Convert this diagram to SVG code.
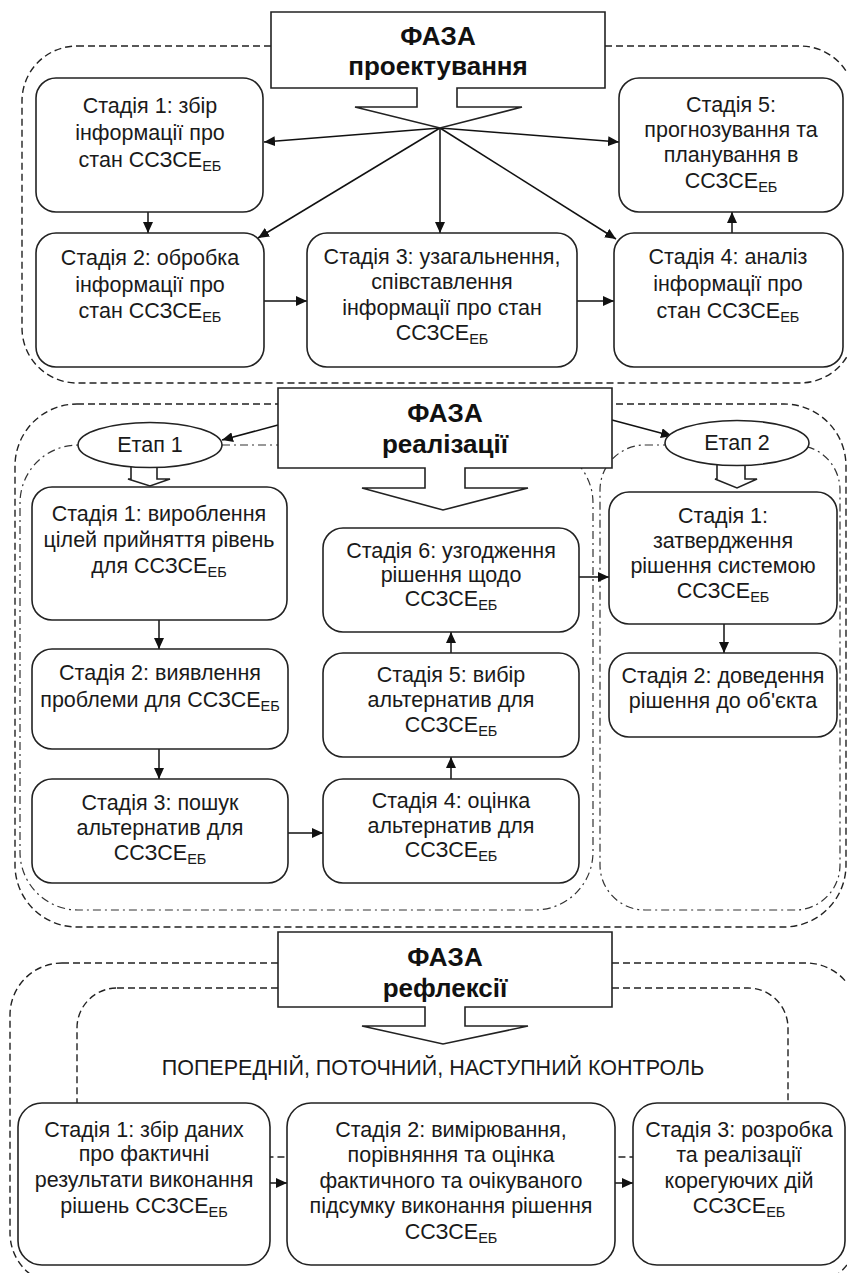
<svg xmlns="http://www.w3.org/2000/svg" width="847" height="1273" viewBox="0 0 847 1273">
<defs>
<marker id="ah" markerUnits="userSpaceOnUse" markerWidth="12" markerHeight="10" refX="11" refY="5" orient="auto">
<path d="M0,0 L11,5 L0,10 z" fill="#111"/>
</marker>
<style>
.box{fill:#fff;stroke:#222;stroke-width:1.6}
.ph{fill:#fff;stroke:#222;stroke-width:1.6}
.t{font-family:"Liberation Sans",Arial,sans-serif;font-size:21.5px;text-anchor:middle;fill:#1a1a1a}
.s{font-size:14.5px}
.pt{font-family:"Liberation Sans",Arial,sans-serif;font-size:26px;font-weight:bold;text-anchor:middle;fill:#111}
.dash{fill:none;stroke:#222;stroke-width:1.4;stroke-dasharray:7 4}
.dd{fill:none;stroke:#333;stroke-width:1.2;stroke-dasharray:8 4 2 4}
.ln{stroke:#111;stroke-width:1.5;fill:none;marker-end:url(#ah)}
</style>
</defs>

<g id="regions">
<rect class="dash" x="22" y="46" width="833" height="337" rx="55"/>
<rect class="dash" x="15" y="404" width="831" height="523" rx="62"/>
<rect class="dd" x="20" y="445" width="573" height="465" rx="58"/>
<rect class="dd" x="600" y="445" width="240" height="465" rx="45"/>
<rect class="dash" x="10" y="963" width="848" height="322" rx="52"/>
<rect class="dash" x="77" y="988" width="711" height="169" rx="40"/>
</g>

<g id="connectors">
<line class="ln" x1="440" y1="128" x2="264" y2="142"/>
<line class="ln" x1="440" y1="128" x2="619" y2="142"/>
<line class="ln" x1="440" y1="128" x2="440" y2="233"/>
<line class="ln" x1="440" y1="128" x2="258" y2="238"/>
<line class="ln" x1="440" y1="128" x2="616" y2="239"/>
<line class="ln" x1="148" y1="212" x2="148" y2="233"/>
<line class="ln" x1="264" y1="301" x2="307" y2="301"/>
<line class="ln" x1="577" y1="301" x2="614" y2="301"/>
<line class="ln" x1="732" y1="233" x2="732" y2="212"/>
<line class="ln" x1="278" y1="425" x2="222" y2="440"/>
<line class="ln" x1="612" y1="420" x2="672" y2="436"/>
<line class="ln" x1="159" y1="620" x2="159" y2="649"/>
<line class="ln" x1="159" y1="749" x2="159" y2="779"/>
<line class="ln" x1="288" y1="833" x2="323" y2="833"/>
<line class="ln" x1="451" y1="779" x2="451" y2="757"/>
<line class="ln" x1="451" y1="653" x2="451" y2="632"/>
<line class="ln" x1="579" y1="577" x2="609" y2="577"/>
<line class="ln" x1="724" y1="624" x2="724" y2="653"/>
<line class="ln" x1="270" y1="1183" x2="287" y2="1183"/>
<line class="ln" x1="615" y1="1183" x2="633" y2="1183"/>
<path class="ph" d="M131,467 V479 H128 L150,486 L170,479 H157 V467"/>
<path class="ph" d="M717,464 V479 H715 L737,488 L757,479 H745 V464"/>
</g>

<g id="phase1">
<path class="ph" d="M271,12 H605 V88 H457 V107 H522 L440,128 L355,107 H417 V88 H271 Z"/>
<text class="pt" x="438" y="45">ФАЗА</text>
<text class="pt" x="438" y="75">проектування</text>
</g>
<g id="phase2">
<path class="ph" d="M278,388 H612 V468 H465 V488 H528 L443,510 L362,488 H425 V468 H278 Z"/>
<text class="pt" x="445" y="422">ФАЗА</text>
<text class="pt" x="445" y="453">реалізації</text>
</g>
<g id="phase3">
<path class="ph" d="M278,932 H612 V1007 H465 V1026 H528 L443,1044 L362,1026 H425 V1007 H278 Z"/>
<text class="pt" x="445" y="966">ФАЗА</text>
<text class="pt" x="445" y="997">рефлексії</text>
</g>

<g id="p1s1">
<rect class="box" x="36" y="78" width="227" height="134" rx="20"/>
<text class="t" x="150" y="113">Стадія 1: збір</text>
<text class="t" x="150" y="140">інформації про</text>
<text class="t" x="150" y="167">стан ССЗСЕ<tspan class="s" dy="4">ЕБ</tspan></text>
</g>
<g id="p1s5">
<rect class="box" x="619" y="78" width="224" height="134" rx="20"/>
<text class="t" x="731" y="112">Стадія 5:</text>
<text class="t" x="731" y="137">прогнозування та</text>
<text class="t" x="731" y="162">планування в</text>
<text class="t" x="731" y="188">ССЗСЕ<tspan class="s" dy="4">ЕБ</tspan></text>
</g>
<g id="p1s2">
<rect class="box" x="36" y="233" width="228" height="134" rx="20"/>
<text class="t" x="150" y="265">Стадія 2: обробка</text>
<text class="t" x="150" y="292">інформації про</text>
<text class="t" x="150" y="318">стан ССЗСЕ<tspan class="s" dy="4">ЕБ</tspan></text>
</g>
<g id="p1s3">
<rect class="box" x="307" y="233" width="270" height="134" rx="20"/>
<text class="t" x="442" y="264">Стадія 3: узагальнення,</text>
<text class="t" x="442" y="289">співставлення</text>
<text class="t" x="442" y="315">інформації про стан</text>
<text class="t" x="442" y="340">ССЗСЕ<tspan class="s" dy="4">ЕБ</tspan></text>
</g>
<g id="p1s4">
<rect class="box" x="614" y="233" width="229" height="134" rx="20"/>
<text class="t" x="728" y="264">Стадія 4: аналіз</text>
<text class="t" x="728" y="291">інформації про</text>
<text class="t" x="728" y="318">стан ССЗСЕ<tspan class="s" dy="4">ЕБ</tspan></text>
</g>

<g id="etap1">
<ellipse class="box" cx="150" cy="445" rx="72" ry="22.5"/>
<text class="t" x="150" y="452">Етап 1</text>
</g>
<g id="etap2">
<ellipse class="box" cx="737" cy="443" rx="72" ry="22.5"/>
<text class="t" x="737" y="450">Етап 2</text>
</g>

<g id="e1s1">
<rect class="box" x="32" y="487" width="255" height="133" rx="20"/>
<text class="t" x="159" y="521">Стадія 1: вироблення</text>
<text class="t" x="159" y="547">цілей прийняття рівень</text>
<text class="t" x="159" y="573">для ССЗСЕ<tspan class="s" dy="4">ЕБ</tspan></text>
</g>
<g id="e1s2">
<rect class="box" x="32" y="649" width="256" height="100" rx="20"/>
<text class="t" x="160" y="680">Стадія 2: виявлення</text>
<text class="t" x="160" y="707">проблеми для ССЗСЕ<tspan class="s" dy="4">ЕБ</tspan></text>
</g>
<g id="e1s3">
<rect class="box" x="32" y="779" width="256" height="104" rx="20"/>
<text class="t" x="160" y="810">Стадія 3: пошук</text>
<text class="t" x="160" y="835">альтернатив для</text>
<text class="t" x="160" y="860">ССЗСЕ<tspan class="s" dy="4">ЕБ</tspan></text>
</g>
<g id="e1s4">
<rect class="box" x="323" y="779" width="256" height="104" rx="20"/>
<text class="t" x="451" y="808">Стадія 4: оцінка</text>
<text class="t" x="451" y="833">альтернатив для</text>
<text class="t" x="451" y="857">ССЗСЕ<tspan class="s" dy="4">ЕБ</tspan></text>
</g>
<g id="e1s5">
<rect class="box" x="323" y="653" width="256" height="104" rx="20"/>
<text class="t" x="451" y="682">Стадія 5: вибір</text>
<text class="t" x="451" y="707">альтернатив для</text>
<text class="t" x="451" y="732">ССЗСЕ<tspan class="s" dy="4">ЕБ</tspan></text>
</g>
<g id="e1s6">
<rect class="box" x="323" y="528" width="256" height="104" rx="20"/>
<text class="t" x="451" y="558">Стадія 6: узгодження</text>
<text class="t" x="451" y="582">рішення щодо</text>
<text class="t" x="451" y="606">ССЗСЕ<tspan class="s" dy="4">ЕБ</tspan></text>
</g>
<g id="e2s1">
<rect class="box" x="609" y="492" width="228" height="132" rx="20"/>
<text class="t" x="723" y="523">Стадія 1:</text>
<text class="t" x="723" y="548">затвердження</text>
<text class="t" x="723" y="573">рішення системою</text>
<text class="t" x="723" y="598">ССЗСЕ<tspan class="s" dy="4">ЕБ</tspan></text>
</g>
<g id="e2s2">
<rect class="box" x="609" y="653" width="228" height="84" rx="20"/>
<text class="t" x="723" y="683">Стадія 2: доведення</text>
<text class="t" x="723" y="708">рішення до об'єкта</text>
</g>

<g id="control">
<text class="t" x="433" y="1075">ПОПЕРЕДНІЙ, ПОТОЧНИЙ, НАСТУПНИЙ КОНТРОЛЬ</text>
</g>
<g id="p3s1">
<rect class="box" x="18" y="1103" width="252" height="162" rx="24"/>
<text class="t" x="144" y="1137">Стадія 1: збір даних</text>
<text class="t" x="144" y="1161">про фактичні</text>
<text class="t" x="144" y="1187">результати виконання</text>
<text class="t" x="144" y="1213">рішень ССЗСЕ<tspan class="s" dy="4">ЕБ</tspan></text>
</g>
<g id="p3s2">
<rect class="box" x="287" y="1103" width="328" height="162" rx="24"/>
<text class="t" x="451" y="1137">Стадія 2: вимірювання,</text>
<text class="t" x="451" y="1162">порівняння та оцінка</text>
<text class="t" x="451" y="1188">фактичного та очікуваного</text>
<text class="t" x="451" y="1213">підсумку виконання рішення</text>
<text class="t" x="451" y="1239">ССЗСЕ<tspan class="s" dy="4">ЕБ</tspan></text>
</g>
<g id="p3s3">
<rect class="box" x="633" y="1103" width="212" height="162" rx="24"/>
<text class="t" x="739" y="1137">Стадія 3: розробка</text>
<text class="t" x="739" y="1162">та реалізації</text>
<text class="t" x="739" y="1188">корегуючих дій</text>
<text class="t" x="739" y="1213">ССЗСЕ<tspan class="s" dy="4">ЕБ</tspan></text>
</g>
</svg>
